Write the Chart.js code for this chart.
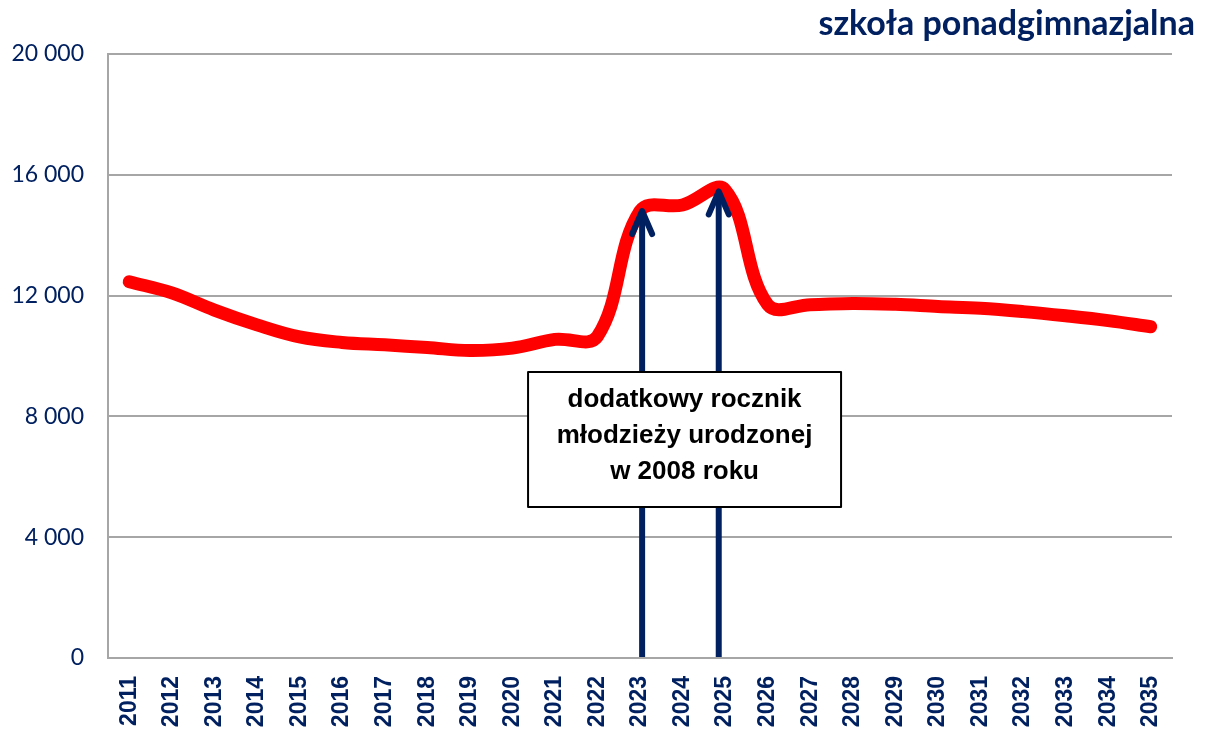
<!DOCTYPE html>
<html>
<head>
<meta charset="utf-8">
<script src="https://cdn.jsdelivr.net/npm/chart.js@4.4.0/dist/chart.umd.min.js"></script>
<style>
  body { margin: 0; background: #fff; }
  #wrap { width: 1207px; height: 735px; }
</style>
</head>
<body>
<div id="wrap"><canvas id="myChart" width="1207" height="735"></canvas></div>
<script>
'use strict';
// data
let years = ['2011','2012','2013','2014','2015','2016','2017','2018','2019','2020','2021','2022','2023',
  '2024','2025','2026','2027','2028','2029','2030','2031','2032','2033','2034','2035'];
let pupils = [12460, 12090, 11520, 11030, 10630, 10450, 10370, 10280, 10180, 10260, 10550, 10650, 14800,
  15000, 15500, 11700, 11700, 11740, 11710, 11640, 11580, 11470, 11330, 11170, 10970];
let yTicks = [0, 4000, 8000, 12000, 16000, 20000];
let titleText = 'szkoła ponadgimnazjalna';
let noteLines = ['dodatkowy rocznik', 'młodzieży urodzonej', 'w 2008 roku'];
// arrows: category and value of the tip
let arrowYears = ['2023', '2025'];
let arrowTips = [14800, 15450];

let navy = '#002060';
let gridGray = '#a6a6a6';

function fmt(v){
  return v >= 1000 ? Math.floor(v/1000) + ' ' + String(v % 1000).padStart(3,'0') : String(v);
}

let extras = {
  id: 'extras',
  afterDatasetsDraw(chart){
    let ctx = chart.ctx;
    let x = chart.scales.x, y = chart.scales.y;
    let step = x.getPixelForValue(1) - x.getPixelForValue(0);
    let shifts = [0.05, -0.15];
    ctx.save();
    ctx.strokeStyle = navy;
    ctx.lineWidth = 6;
    ctx.lineJoin = 'round';
    for (let i = 0; i < arrowYears.length; i++){
      let ax = x.getPixelForValue(years.indexOf(arrowYears[i])) + shifts[i]*step;
      let top = y.getPixelForValue(arrowTips[i]);
      let bottom = y.getPixelForValue(0) - 1;
      ctx.beginPath();
      ctx.lineCap = 'butt';
      ctx.moveTo(ax, bottom);
      ctx.lineTo(ax, top + 2);
      ctx.stroke();
      ctx.lineCap = 'round';
      ctx.beginPath();
      ctx.moveTo(ax - 10, top + 23);
      ctx.lineTo(ax, top);
      ctx.lineTo(ax + 10, top + 23);
      ctx.stroke();
    }
    // note box
    let cx = x.getPixelForValue(years.indexOf('2024'));
    let bTop = y.getPixelForValue(9470), bBot = y.getPixelForValue(5000);
    let bw = 313;
    ctx.fillStyle = '#fff';
    ctx.fillRect(cx - bw/2 + 2, bTop, bw, bBot - bTop);
    ctx.strokeStyle = '#000';
    ctx.lineWidth = 2;
    ctx.strokeRect(cx - bw/2 + 2, bTop, bw, bBot - bTop);
    ctx.fillStyle = '#000';
    ctx.font = 'bold 26px "Liberation Sans", Arial, sans-serif';
    ctx.textAlign = 'center';
    ctx.textBaseline = 'middle';
    for (let j = 0; j < noteLines.length; j++){
      ctx.fillText(noteLines[j], cx + 2, bTop + 28 + j*36);
    }
    ctx.restore();
  },
  afterDraw(chart){
    let ctx = chart.ctx;
    ctx.save();
    ctx.fillStyle = navy;
    ctx.font = 'bold 34px Lato, "Open Sans", sans-serif';
    ctx.textAlign = 'right';
    ctx.textBaseline = 'alphabetic';
    ctx.fillText(titleText, 1195, 35);
    ctx.restore();
  }
};

let ctx = document.getElementById('myChart').getContext('2d');
let chart = new Chart(ctx, {
  type: 'line',
  data: {
    labels: years,
    datasets: [{
      label: 'szkoła ponadgimnazjalna',
      data: pupils,
      borderColor: '#ff0000',
      backgroundColor: '#ff0000',
      borderWidth: 13,
      borderCapStyle: 'round',
      borderJoinStyle: 'round',
      pointRadius: 0,
      tension: 0.38,
      fill: false
    }]
  },
  options: {
    responsive: false,
    animation: false,
    layout: { padding: { top: 54, right: 35, left: 0, bottom: 0 } },
    plugins: { legend: { display: false }, tooltip: { enabled: false }, title: { display: false } },
    scales: {
      x: {
        offset: true,
        grid: { display: false, drawTicks: false },
        border: { display: true, color: gridGray, width: 2 },
        ticks: {
          color: navy,
          font: { family: '"Liberation Sans", Arial, sans-serif', size: 23, weight: 'bold' },
          minRotation: 90, maxRotation: 90, autoSkip: false, padding: 18
        },
        afterFit(scale){ scale.height = 77; }
      },
      y: {
        min: 0, max: 20000,
        afterBuildTicks(scale){ scale.ticks = yTicks.map(v => ({ value: v })); },
        grid: { color: gridGray, lineWidth: 2, drawTicks: false },
        border: { display: true, color: gridGray, width: 2 },
        ticks: {
          color: navy,
          font: { family: 'Lato, "Open Sans", sans-serif', size: 23 },
          padding: 24,
          callback: v => fmt(v)
        },
        afterFit(scale){ scale.width = 108; }
      }
    }
  },
  plugins: [extras]
});
</script>
</body>
</html>
